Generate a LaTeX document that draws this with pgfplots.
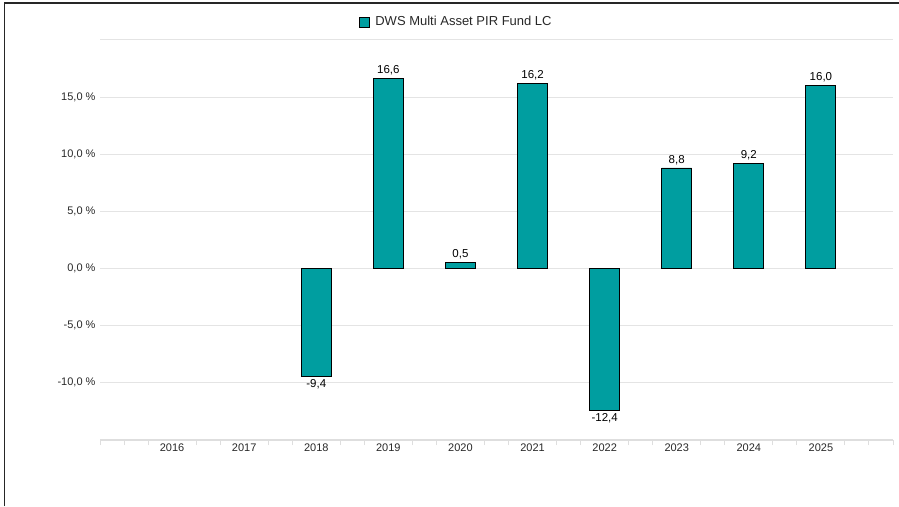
\documentclass[border=0pt]{standalone}
\usepackage{pgfplots}
\pgfplotsset{compat=1.18}
\usepackage{fontspec}
\setmainfont{Liberation Sans}
\definecolor{fundteal}{RGB}{0,158,160}
\definecolor{gridgray}{RGB}{228,228,228}
\definecolor{axgray}{RGB}{222,222,222}
\definecolor{txtgray}{RGB}{40,40,40}
\begin{document}
\begin{tikzpicture}[x=1pt,y=1pt]
\begin{axis}[
  at={(100pt,66pt)}, anchor=south west,
  scale only axis, width=793pt, height=400pt,
  xmin=-1, xmax=10, ymin=-15, ymax=20,
  axis x line*=bottom, axis y line*=left,
  y axis line style={draw=none},
  x axis line style={draw=axgray, line width=2pt},
  ytick={-15,-10,-5,0,5,10,15,20},
  yticklabels={,{-10,0 \%},{-5,0 \%},{0,0 \%},{5,0 \%},{10,0 \%},{15,0 \%},},
  ytick style={draw=none},
  ymajorgrids, grid style={draw=gridgray, line width=1pt},
  xtick={0,1,2,3,4,5,6,7,8,9},
  xticklabels={2016,2017,2018,2019,2020,2021,2022,2023,2024,2025},
  major x tick style={draw=none},
  minor xtick={-1,-0.6667,-0.3333,0.3333,0.6667,1.3333,1.6667,2.3333,2.6667,3.3333,3.6667,4.3333,4.6667,5.3333,5.6667,6.3333,6.6667,7.3333,7.6667,8.3333,8.6667,9.3333,9.6667,10},
  minor x tick style={draw=axgray, line width=1pt},
  minor tick length=5pt, major tick length=0pt,
  tick align=outside,
  ticklabel style={font=\fontsize{11}{13}\selectfont, text=txtgray},
  yticklabel style={xshift=-1pt},
  xticklabel style={yshift=0pt},
  /pgf/number format/.cd, fixed, fixed zerofill, precision=1, use comma, assume math mode=true,
  /pgfplots/.cd,
  legend style={at={(0.449,1.045)}, anchor=center, draw=none, fill=none,
    font=\fontsize{13}{15}\selectfont, text=txtgray},
  legend image code/.code={\draw[fill=fundteal,draw=black,line width=0.8pt] (0pt,-5pt) rectangle (10pt,5pt); \path (14pt,0pt);},
  clip=false,
]
\addplot[ybar, bar width=30pt, fill=fundteal, draw=black, line width=0.9pt,
  nodes near coords,
  every node near coord/.append style={font=\fontsize{11.5}{13}\selectfont, text=black, inner sep=3pt}
] coordinates {(2,-9.4) (3,16.6) (4,0.5) (5,16.2) (6,-12.4) (7,8.8) (8,9.2) (9,16.0)};
\addlegendentry{DWS Multi Asset PIR Fund LC}
\end{axis}
\draw[draw=black!85, line width=1.5pt] (4.5,0) -- (4.5,503) -- (899,503);
\pgfresetboundingbox
\useasboundingbox (0,0) rectangle (899,506);
\end{tikzpicture}
\end{document}
